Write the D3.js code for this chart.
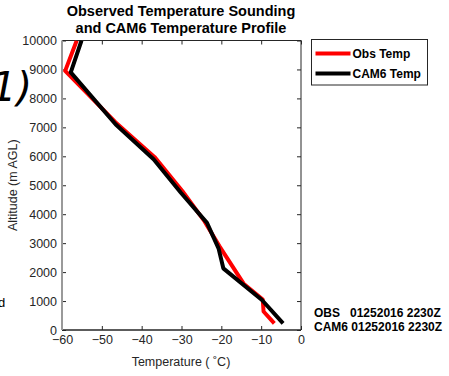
<!DOCTYPE html>
<html>
<head>
<meta charset="utf-8">
<script src="https://cdn.jsdelivr.net/npm/d3@7"></script>
<style>
body { margin: 0; background: #fff; }
text { font-family: "Liberation Sans", Arial, sans-serif; }
</style>
</head>
<body>
<div id="chart"></div>
<script>
// data (temperature C, altitude m AGL)
const obsTemp = [-6.7, -9.4, -9.6, -14.4, -20.5, -24.2, -29.8, -36.8, -46.6, -59.2, -56.3]
const obsAlt  = [230, 640, 1050, 1600, 2900, 3750, 4800, 5980, 7180, 8950, 10000]
const camTemp = [-4.5, -9.8, -19.5, -20.7, -23.6, -30.2, -37, -46.5, -57.8, -55.1]
const camAlt  = [230, 1036, 2130, 2820, 3700, 4750, 5900, 7100, 8900, 10000]
const xTicks = [-60, -50, -40, -30, -20, -10, 0]
const yTicks = [0, 1000, 2000, 3000, 4000, 5000, 6000, 7000, 8000, 9000, 10000]
const seriesNames = ["Obs Temp", "CAM6 Temp"]
const seriesColors = ["#ff0000", "#000000"]
const stamps = ["OBS   01252016 2230Z", "CAM6 01252016 2230Z"]

const W = 449, H = 376
const margin = {top: 40.5, right: 148, bottom: 46, left: 62}
const width = W - margin.left - margin.right
const height = H - margin.top - margin.bottom

const svg = d3.select("#chart").append("svg")
  .attr("width", W).attr("height", H)

const g = svg.append("g")
  .attr("transform", "translate(" + margin.left + "," + margin.top + ")")

const x = d3.scaleLinear().domain([-60, 0]).range([0, width])
const y = d3.scaleLinear().domain([0, 10000]).range([height, 0])

g.append("clipPath").attr("id", "clip")
  .append("rect").attr("width", width).attr("height", height)

// axes
const axisColor = "#262626"
function styleAxis(sel) {
  sel.selectAll("path").remove()
  sel.selectAll("line").attr("stroke", axisColor)
  sel.selectAll("text").attr("fill", axisColor).style("font-size", "12.5px")
    .style("font-family", "'Liberation Sans', Arial, sans-serif")
}
g.append("g").attr("transform", "translate(0," + height + ")")
  .call(d3.axisBottom(x).tickValues(xTicks).tickSize(-4).tickPadding(5).tickFormat(d3.format("d")))
  .call(styleAxis)
g.append("g")
  .call(d3.axisTop(x).tickValues(xTicks).tickSize(-4).tickFormat(""))
  .call(styleAxis)
g.append("g")
  .call(d3.axisLeft(y).tickValues(yTicks).tickSize(-4).tickPadding(5).tickFormat(d3.format("d")))
  .call(styleAxis)
g.append("g").attr("transform", "translate(" + width + ",0)")
  .call(d3.axisRight(y).tickValues(yTicks).tickSize(-4).tickFormat(""))
  .call(styleAxis)

// box lines
g.append("line").attr("x1", 0).attr("x2", width).attr("y1", 0).attr("y2", 0)
  .attr("stroke", axisColor).attr("stroke-width", 1)
g.append("line").attr("x1", width).attr("x2", width).attr("y1", 0).attr("y2", height)
  .attr("stroke", axisColor).attr("stroke-width", 1)
g.append("line").attr("x1", 0).attr("x2", width).attr("y1", height).attr("y2", height)
  .attr("stroke", axisColor).attr("stroke-width", 1.3)
g.append("line").attr("x1", 0).attr("x2", 0).attr("y1", 0).attr("y2", height)
  .attr("stroke", "#9a9a9a").attr("stroke-width", 2)

// lines
const line = d3.line().x(d => x(d[0])).y(d => y(d[1]))
const obs = obsTemp.map((t, i) => [t, obsAlt[i]])
const cam = camTemp.map((t, i) => [t, camAlt[i]])
const plot = g.append("g").attr("clip-path", "url(#clip)")
plot.append("path").datum(obs).attr("d", line)
  .attr("fill", "none").attr("stroke", seriesColors[0]).attr("stroke-width", 4)
  .attr("stroke-linejoin", "round")
plot.append("path").datum(cam).attr("d", line)
  .attr("fill", "none").attr("stroke", seriesColors[1]).attr("stroke-width", 4)
  .attr("stroke-linejoin", "round")

// title
svg.append("text").attr("x", 181).attr("y", 16).attr("text-anchor", "middle")
  .style("font-size", "14.5px").style("font-weight", "bold").attr("fill", "#000")
  .text("Observed Temperature Sounding")
svg.append("text").attr("x", 181).attr("y", 33).attr("text-anchor", "middle")
  .style("font-size", "14.5px").style("font-weight", "bold").attr("fill", "#000")
  .text("and CAM6 Temperature Profile")

// axis labels
svg.append("text").attr("x", 181).attr("y", 366).attr("text-anchor", "middle")
  .style("font-size", "12.5px").attr("fill", axisColor)
  .text("Temperature ( \u02DAC)")
svg.append("text")
  .attr("transform", "translate(17," + (margin.top + height / 2) + ") rotate(-90)")
  .attr("text-anchor", "middle")
  .style("font-size", "12.5px").attr("fill", axisColor)
  .text("Altitude (m AGL)")

// legend
const lg = svg.append("g").attr("transform", "translate(311.5,39.5)")
lg.append("rect").attr("width", 116).attr("height", 45.5)
  .attr("fill", "#fff").attr("stroke", "#262626").attr("stroke-width", 1)
seriesNames.forEach((n, i) => {
  lg.append("line").attr("x1", 4).attr("x2", 39)
    .attr("y1", 14 + i * 20).attr("y2", 14 + i * 20)
    .attr("stroke", seriesColors[i]).attr("stroke-width", 4)
  lg.append("text").attr("x", 41).attr("y", 18.5 + i * 20)
    .style("font-size", "12px").style("font-weight", "bold").attr("fill", "#000")
    .text(n)
})

// date stamps
stamps.forEach((s, i) => {
  svg.append("text").attr("x", 314).attr("y", 317 + i * 14)
    .style("font-size", "12px").style("font-weight", "bold").attr("fill", "#000")
    .attr("xml:space", "preserve").style("white-space", "pre")
    .text(s)
})

// cropped bits of neighbouring panels
svg.append("text").attr("x", -9).attr("y", 101)
  .style("font-size", "40px").style("font-style", "italic").attr("fill", "#000")
  .style("font-family", "'DejaVu Sans', sans-serif")
  .text("1)")
svg.append("text").attr("x", -2).attr("y", 307)
  .style("font-size", "13px").attr("fill", "#000")
  .text("d")
</script>
</body>
</html>
